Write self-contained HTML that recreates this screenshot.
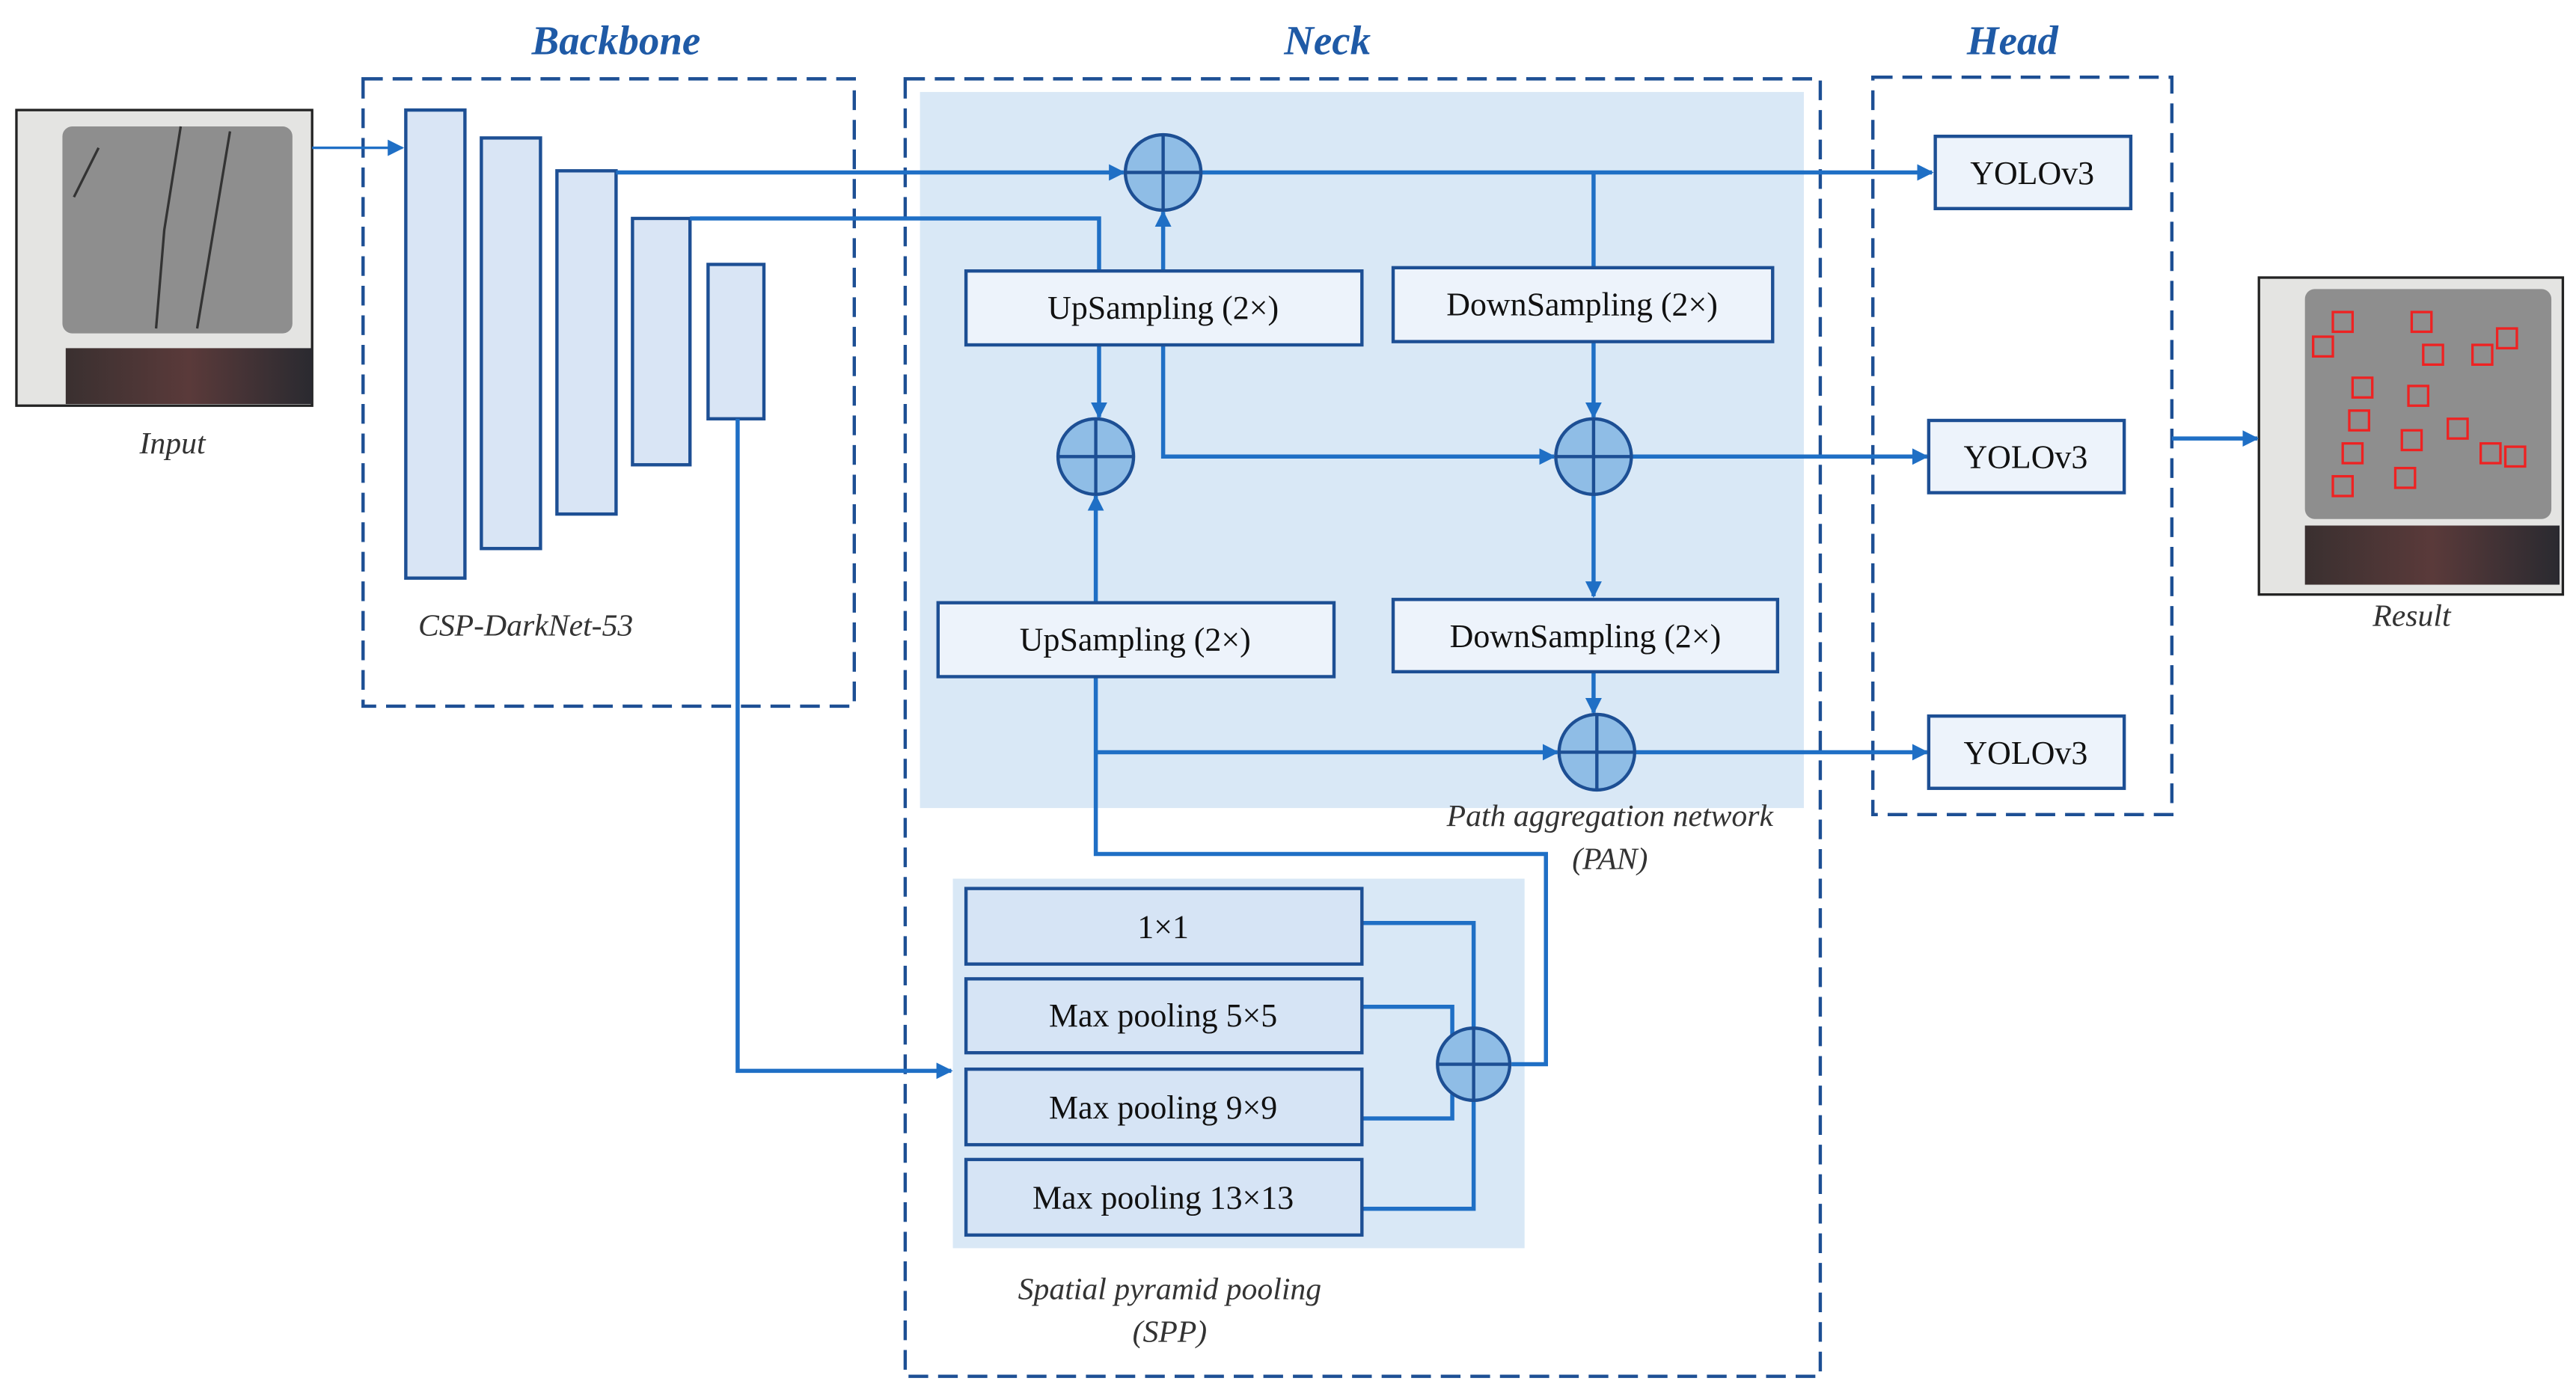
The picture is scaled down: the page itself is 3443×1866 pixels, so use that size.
<!DOCTYPE html>
<html><head><meta charset="utf-8"><style>html,body{margin:0;padding:0;background:#fff}svg{display:block}</style></head>
<body>
<svg width="3443" height="1866" viewBox="0 0 1568 850" preserveAspectRatio="none" xmlns="http://www.w3.org/2000/svg">
<defs>
<marker id="a" markerWidth="10" markerHeight="10" refX="9" refY="5" orient="auto" markerUnits="userSpaceOnUse"><path d="M0,0 L10,5 L0,10 z" fill="#1f6fc5"/></marker>
<linearGradient id="st" x1="0" x2="1"><stop offset="0" stop-color="#3a3030"/><stop offset="0.5" stop-color="#5a3a3a"/><stop offset="1" stop-color="#2a2a30"/></linearGradient>
</defs>
<rect width="1568" height="850" fill="#fff"/>
<!-- shaded regions -->
<rect x="560" y="56" width="538" height="436" fill="#d9e8f6"/>
<rect x="580" y="535" width="348" height="225" fill="#d9e8f6"/>
<!-- dashed boxes -->
<g fill="none" stroke="#1d4f94" stroke-width="2" stroke-dasharray="12,6">
<rect x="221" y="48" width="299" height="382"/>
<rect x="551" y="48" width="557" height="790"/>
<rect x="1140" y="47" width="182" height="449"/>
</g>
<g font-family="Liberation Serif, serif" font-style="italic" font-weight="bold" fill="#1f5aa6" font-size="25" text-anchor="middle">
<text x="375" y="33">Backbone</text><text x="808" y="33">Neck</text><text x="1225" y="33">Head</text>
</g>
<!-- input image -->
<rect x="10" y="67" width="180" height="180" fill="#e4e4e2" stroke="#222" stroke-width="1.5"/>
<rect x="38" y="77" width="140" height="126" rx="6" fill="#8e8e8e"/>
<path d="M110,77 L100,140 L95,200 M140,80 L130,140 L120,200 M60,90 L45,120" stroke="#333" stroke-width="1.5" fill="none"/>
<rect x="40" y="212" width="150" height="34" fill="url(#st)"/>
<!-- result image -->
<rect x="1375" y="169" width="185" height="193" fill="#e4e4e2" stroke="#222" stroke-width="1.5"/>
<rect x="1403" y="176" width="150" height="140" rx="6" fill="#8e8e8e"/>
<rect x="1403" y="320" width="155" height="36" fill="url(#st)"/>
<g fill="none" stroke="#e22" stroke-width="1.5">
<rect x="1408" y="205" width="12" height="12"/><rect x="1420" y="190" width="12" height="12"/><rect x="1432" y="230" width="12" height="12"/><rect x="1430" y="250" width="12" height="12"/><rect x="1426" y="270" width="12" height="12"/><rect x="1420" y="290" width="12" height="12"/><rect x="1468" y="190" width="12" height="12"/><rect x="1475" y="210" width="12" height="12"/><rect x="1466" y="235" width="12" height="12"/><rect x="1462" y="262" width="12" height="12"/><rect x="1458" y="285" width="12" height="12"/><rect x="1490" y="255" width="12" height="12"/><rect x="1510" y="270" width="12" height="12"/><rect x="1525" y="272" width="12" height="12"/><rect x="1505" y="210" width="12" height="12"/><rect x="1520" y="200" width="12" height="12"/>
</g>
<g font-family="Liberation Serif, serif" font-style="italic" fill="#333" font-size="19" text-anchor="middle">
<text x="105" y="276">Input</text><text x="1468" y="381">Result</text>
<text x="320" y="387">CSP-DarkNet-53</text>
<text x="980" y="503">Path aggregation network</text><text x="980" y="529">(PAN)</text>
<text x="712" y="791">Spatial pyramid pooling</text><text x="712" y="817">(SPP)</text>
</g>
<!-- backbone bars -->
<g fill="#d9e5f5" stroke="#1d4f94" stroke-width="2">
<rect x="247" y="67" width="36" height="285"/><rect x="293" y="84" width="36" height="250"/><rect x="339" y="104" width="36" height="209"/><rect x="385" y="133" width="35" height="150"/><rect x="431" y="161" width="34" height="94"/>
</g>
<!-- connectors -->
<g fill="none" stroke="#1f6fc5" stroke-width="2.5">
<line x1="190" y1="90" x2="245" y2="90" stroke-width="1.5" marker-end="url(#a)"/>
<line x1="375" y1="105" x2="684" y2="105" marker-end="url(#a)"/>
<polyline points="420,133 669,133 669,165"/>
<line x1="708" y1="165" x2="708" y2="129" marker-end="url(#a)"/>
<line x1="669" y1="210" x2="669" y2="254" marker-end="url(#a)"/>
<polyline points="708,210 708,278 946,278" marker-end="url(#a)"/>
<line x1="731" y1="105" x2="1176" y2="105" marker-end="url(#a)"/>
<line x1="970" y1="105" x2="970" y2="163"/>
<line x1="970" y1="208" x2="970" y2="254" marker-end="url(#a)"/>
<line x1="667" y1="367" x2="667" y2="302" marker-end="url(#a)"/>
<line x1="993" y1="278" x2="1173" y2="278" marker-end="url(#a)"/>
<line x1="970" y1="301" x2="970" y2="363" marker-end="url(#a)"/>
<line x1="970" y1="409" x2="970" y2="434" marker-end="url(#a)"/>
<polyline points="667,412 667,520 941,520 941,648 920,648"/>
<line x1="667" y1="458" x2="948" y2="458" marker-end="url(#a)"/>
<line x1="995" y1="458" x2="1173" y2="458" marker-end="url(#a)"/>
<line x1="1322" y1="267" x2="1374" y2="267" marker-end="url(#a)"/>
<polyline points="449,255 449,652 579,652" marker-end="url(#a)"/>
<polyline points="829,562 897,562 897,626"/>
<polyline points="829,613 884,613 884,630"/>
<polyline points="829,681 884,681 884,666"/>
<polyline points="829,736 897,736 897,670"/>
</g>
<!-- circles -->
<g fill="#8fbde6" stroke="#1d4f94" stroke-width="2">
<circle cx="708" cy="105" r="23"/><circle cx="667" cy="278" r="23"/><circle cx="970" cy="278" r="23"/><circle cx="972" cy="458" r="23"/><circle cx="897" cy="648" r="22"/>
</g>
<g stroke="#1d4f94" stroke-width="2">
<path d="M708,82V128M685,105H731M667,255V301M644,278H690M970,255V301M947,278H993M972,435V481M949,458H995M897,626V670M875,648H919"/>
</g>
<!-- boxes -->
<g fill="#edf3fb" stroke="#1d4f94" stroke-width="2">
<rect x="588" y="165" width="241" height="45"/><rect x="848" y="163" width="231" height="45"/>
<rect x="571" y="367" width="241" height="45"/><rect x="848" y="365" width="234" height="44"/>
<rect x="1178" y="83" width="119" height="44"/><rect x="1174" y="256" width="119" height="44"/><rect x="1174" y="436" width="119" height="44"/>
</g>
<g fill="#d6e4f5" stroke="#1d4f94" stroke-width="2">
<rect x="588" y="541" width="241" height="46"/><rect x="588" y="596" width="241" height="45"/><rect x="588" y="651" width="241" height="46"/><rect x="588" y="706" width="241" height="46"/>
</g>
<g font-family="Liberation Serif, serif" fill="#111" font-size="20" text-anchor="middle">
<text x="708" y="194">UpSampling (2×)</text><text x="963" y="192">DownSampling (2×)</text>
<text x="691" y="396">UpSampling (2×)</text><text x="965" y="394">DownSampling (2×)</text>
<text x="1237" y="112">YOLOv3</text><text x="1233" y="285">YOLOv3</text><text x="1233" y="465">YOLOv3</text>
<text x="708" y="571">1×1</text><text x="708" y="625">Max pooling 5×5</text><text x="708" y="681">Max pooling 9×9</text><text x="708" y="736">Max pooling 13×13</text>
</g>
</svg>
</body></html>
